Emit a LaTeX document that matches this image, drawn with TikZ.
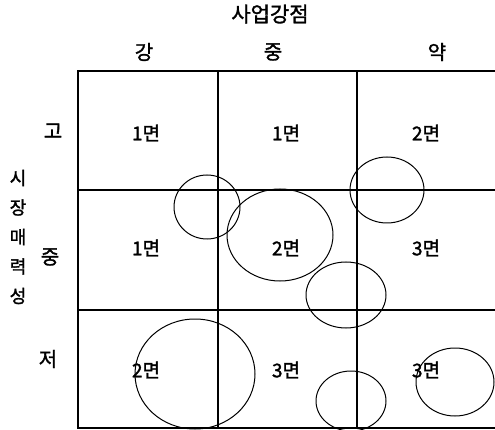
\documentclass[tikz,border=0pt]{standalone}
\usepackage{fontspec}
\setmainfont{Noto Sans CJK KR}[AutoFakeBold=1.5]
\usetikzlibrary{positioning}

\begin{document}
\begin{tikzpicture}[x=1pt, y=-1pt,
        axistitle/.style={font=\fontsize{21}{24}\selectfont\bfseries},
        sidetitle/.style={align=center, font=\fontsize{18}{29.5}\selectfont\bfseries},
        hdr/.style={font=\fontsize{20}{22}\selectfont\bfseries},
        cell/.style={font=\fontsize{19}{22}\selectfont\bfseries},
        gridline/.style={line width=1.1pt},
        bubble/.style={draw, line width=1pt},
    ]
        \useasboundingbox (0,0) rectangle (495,430);

        % Axis titles
        \node[axistitle] (strength) at (270,14) {사업강점};
        \node[sidetitle] (appeal) at (18,237) {시\\장\\매\\력\\성};

        % Column headers
        \node[hdr] (colS) at (144,52) {강};
        \node[hdr] (colM) at (273,52) {중};
        \node[hdr] (colW) at (437,52) {약};

        % Row headers
        \node[hdr] (rowH) at (53,131) {고};
        \node[hdr] (rowM) at (50,257) {중};
        \node[hdr] (rowL) at (48,359) {저};

        % Grid
        \draw[gridline] (500,71) -- (78,71) -- (78,428) -- (500,428);
        \draw[gridline] (78,190) -- (500,190);
        \draw[gridline] (78,310) -- (500,310);
        \draw[gridline] (218,71) -- (218,428);
        \draw[gridline] (357,71) -- (357,428);

        % Cell entries
        \node[cell] (c11) at (146,133) {1면};
        \node[cell] (c12) at (286,133) {1면};
        \node[cell] (c13) at (426,133) {2면};
        \node[cell] (c21) at (146,248) {1면};
        \node[cell] (c22) at (286,248) {2면};
        \node[cell] (c23) at (426,248) {3면};
        \node[cell] (c31) at (146,370) {2면};
        \node[cell] (c32) at (286,370) {3면};
        \node[cell] (c33) at (426,370) {3면};

        % Bubbles
        \draw[bubble] (207,207) ellipse [x radius=33pt, y radius=32pt];
        \draw[bubble] (280,235) ellipse [x radius=53pt, y radius=46pt];
        \draw[bubble] (387,190) ellipse [x radius=37pt, y radius=33pt];
        \draw[bubble] (346,295) ellipse [x radius=40pt, y radius=33pt];
        \draw[bubble] (195,374) ellipse [x radius=60pt, y radius=55pt];
        \draw[bubble] (351,401) ellipse [x radius=35pt, y radius=30pt];
        \draw[bubble] (455,382) ellipse [x radius=39pt, y radius=34pt];
    \end{tikzpicture}
\end{document}
